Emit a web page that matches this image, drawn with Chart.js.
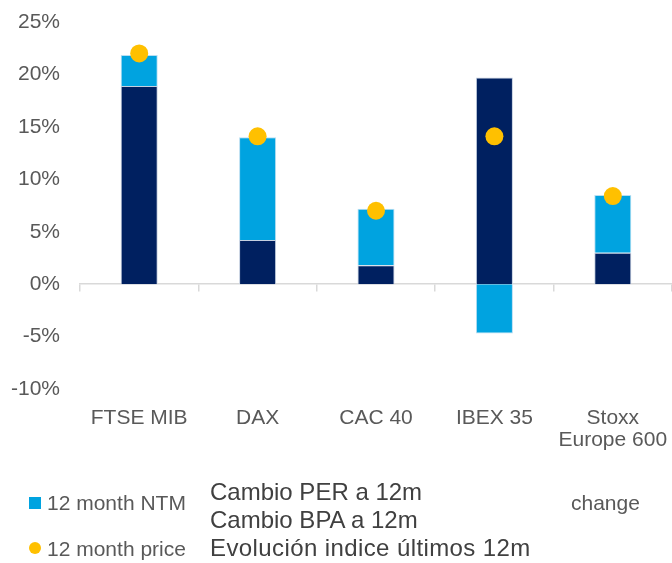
<!DOCTYPE html>
<html>
<head>
<meta charset="utf-8">
<script src="https://cdn.jsdelivr.net/npm/chart.js@4/dist/chart.umd.min.js"></script>
<style>
  html, body { margin: 0; padding: 0; background: #fff; }
  #wrap { position: relative; width: 672px; height: 563px; overflow: hidden; }
  .lg { position: absolute; white-space: nowrap; font-family: "Liberation Sans", Arial, sans-serif; line-height: 1.15; }
  .clip { overflow: hidden; }
</style>
</head>
<body>
<div id="wrap">
  <canvas id="chart" width="672" height="563"></canvas>

  <!-- legend (overlapping texts as in the source image) -->
  <div class="lg" style="left:29px;top:497px;width:12px;height:12px;background:#00A3E0;"></div>
  <div class="lg clip" style="left:47px;top:491px;width:141px;font-size:21px;color:#595959;">12 month NTM EPS change</div>
  <div class="lg" style="left:29px;top:542px;width:12px;height:12px;border-radius:50%;background:#FFC000;"></div>
  <div class="lg clip" style="left:47px;top:537px;width:141px;font-size:21px;color:#595959;">12 month price change</div>
  <div class="lg" style="left:571px;top:491px;font-size:21px;color:#595959;">change</div>
  <div class="lg" style="left:210px;top:478px;font-size:24px;color:#404040;">Cambio PER a 12m</div>
  <div class="lg" style="left:210px;top:506px;font-size:24px;color:#404040;">Cambio BPA a 12m</div>
  <div class="lg" style="left:210px;top:534px;font-size:24px;color:#404040;letter-spacing:0.4px;">Evolución indice últimos 12m</div>
</div>

<script>
document.addEventListener('DOMContentLoaded', function () {
  // Data
  const indices = ['FTSE MIB', 'DAX', 'CAC 40', 'IBEX 35', ['Stoxx', 'Europe 600']];
  const cambioPER = [18.9, 4.2, 1.8, 19.7, 3.0];
  const cambioBPA = [2.95, 9.8, 5.4, -4.7, 5.5];
  const evolucionIndice = [22.0, 14.1, 7.0, 14.1, 8.4];
  const yTicks = [-10, -5, 0, 5, 10, 15, 20, 25];

  const axisColor = '#d9d9d9';
  const textColor = '#595959';

  const ctx = document.getElementById('chart').getContext('2d');
  new Chart(ctx, {
    type: 'bar',
    data: {
      labels: indices,
      datasets: [
        {
          label: 'Cambio PER a 12m',
          data: cambioPER,
          backgroundColor: '#002060',
          borderColor: '#c5d0e0',
          borderWidth: 1,
          xAxisID: 'x',
          stack: 'bars',
          order: 1,
          categoryPercentage: 1,
          barPercentage: 0.313
        },
        {
          label: 'Cambio BPA a 12m',
          data: cambioBPA,
          backgroundColor: '#00A3E0',
          borderColor: '#b8def2',
          borderWidth: 1,
          xAxisID: 'x',
          stack: 'bars',
          order: 1,
          categoryPercentage: 1,
          barPercentage: 0.313
        },
        {
          type: 'line',
          label: 'Evolución indice últimos 12m',
          data: evolucionIndice,
          showLine: false,
          pointRadius: 9,
          pointHoverRadius: 9,
          pointBackgroundColor: '#FFC000',
          pointBorderWidth: 0,
          xAxisID: 'x',
          stack: 'dots',
          order: 0
        }
      ]
    },
    options: {
      responsive: false,
      animation: false,
      layout: { autoPadding: false, padding: { top: 22, right: 0, left: 0, bottom: 0 } },
      plugins: {
        legend: { display: false },
        tooltip: { enabled: false }
      },
      scales: {
        x: {
          stacked: true,
          position: { y: 0 },
          grid: {
            display: true,
            drawOnChartArea: false,
            drawTicks: true,
            tickLength: 7,
            offset: true,
            color: axisColor,
            lineWidth: 1.5
          },
          border: { display: true, color: axisColor, width: 1.5 },
          ticks: { display: false },
          afterFit: s => { s.paddingLeft = 0; s.paddingRight = 0; }
        },
        x2: {
          type: 'category',
          position: 'bottom',
          grid: { display: false, drawTicks: false },
          border: { display: false },
          ticks: {
            color: textColor,
            padding: 18,
            maxRotation: 0,
            autoSkip: false,
            font: { family: 'Liberation Sans', size: 21, lineHeight: 1.05 }
          },
          afterFit: s => { s.height = 174; s.paddingLeft = 0; s.paddingRight = 0; }
        },
        y: {
          stacked: true,
          min: -10,
          max: 25,
          afterBuildTicks: s => { s.ticks = yTicks.map(v => ({ value: v })); },
          grid: { display: false, drawTicks: false },
          border: { display: false },
          ticks: {
            color: textColor,
            padding: 20,
            font: { family: 'Liberation Sans', size: 21 },
            callback: v => v + '%'
          },
          afterFit: s => { s.width = 80; s.paddingTop = 0; s.paddingBottom = 0; }
        }
      }
    }
  });
});
</script>
</body>
</html>
